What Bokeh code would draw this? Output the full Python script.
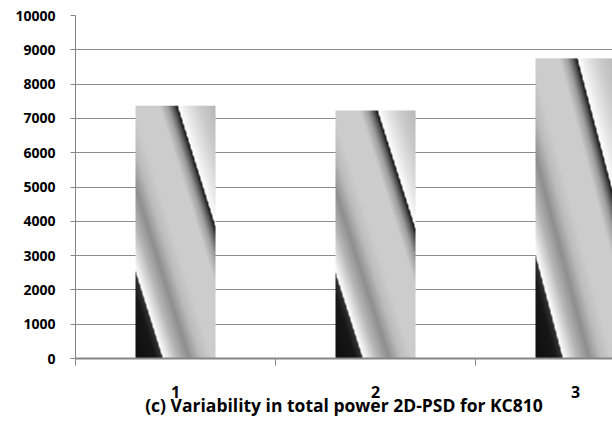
import numpy as np
from bokeh.plotting import figure
from bokeh.models import FixedTicker, Range1d
from bokeh.embed import file_html
from bokeh.resources import INLINE

# ---- data ----
categories = [1, 2, 3]
values = [7370, 7230, 8750]
y_ticks = [0, 1000, 2000, 3000, 4000, 5000, 6000, 7000, 8000, 9000, 10000]
x_labels = {1: "1", 2: "2", 3: "3"}
title_text = "(c) Variability in total power 2D-PSD for KC810"

# ---- style ----
bar_width = 0.4
axis_gray = "#868686"
grid_gray = "#8c8c8c"
font = "Open Sans"

# metallic diagonal gradient (normalized within each bar)
tp = [-1.0, -0.75, -0.665, -0.655, -0.58, -0.48, -0.33, -0.18, -0.05, 0.30, 0.40, 0.47, 0.52, 0.53, 0.62, 0.80, 1.0]
gp = [0.06, 0.09, 0.20, 1.00, 0.88, 0.72, 0.56, 0.74, 0.80, 0.80, 0.62, 0.35, 0.08, 1.00, 0.92, 0.80, 0.72]
rows, cols = 400, 120
u = np.linspace(0, 1, cols)[None, :]
v = np.linspace(0, 1, rows)[:, None]
t = u - (1 - v)
g = np.interp(t, tp, gp)
c = np.clip(g * 255, 0, 255).astype(np.uint32)
img = ((255 << 24) | (c << 16) | (c << 8) | c).astype(np.uint32)

p = figure(frame_width=537, frame_height=343, output_backend="svg", toolbar_location=None,
           x_range=Range1d(0.5, 3.185), y_range=Range1d(0, 10000),
           min_border_left=75, min_border_top=15, min_border_bottom=10, min_border_right=0)
p.outline_line_color = None
p.background_fill_color = "white"
p.border_fill_color = "white"

p.image_rgba(image=[img for _ in categories],
             x=[cat - bar_width / 2 for cat in categories],
             y=[0 for _ in categories],
             dw=[bar_width for _ in categories],
             dh=values)

# grid
p.xgrid.visible = False
p.ygrid.ticker = FixedTicker(ticks=y_ticks)
p.ygrid.grid_line_color = grid_gray
p.ygrid.grid_line_width = 1

# y axis
p.yaxis.ticker = FixedTicker(ticks=y_ticks)
p.yaxis.axis_line_color = axis_gray
p.yaxis.major_tick_line_color = axis_gray
p.yaxis.major_tick_out = 5
p.yaxis.major_tick_in = 0
p.yaxis.minor_tick_line_color = None
p.yaxis.major_label_standoff = 15
p.yaxis.major_label_text_font = font
p.yaxis.major_label_text_font_size = "14px"
p.yaxis.major_label_text_font_style = "bold"
p.yaxis.major_label_text_color = "black"
p.yaxis.formatter.use_scientific = False

# x axis
p.xaxis.ticker = FixedTicker(ticks=categories, minor_ticks=[0.5, 1.5, 2.5, 3.5])
p.xaxis.major_label_overrides = x_labels
p.xaxis.axis_line_color = axis_gray
p.xaxis.axis_line_width = 2
p.xaxis.major_tick_out = 0
p.xaxis.major_tick_in = 0
p.xaxis.minor_tick_out = 7
p.xaxis.minor_tick_in = 0
p.xaxis.minor_tick_line_color = axis_gray
p.xaxis.major_label_standoff = 20
p.xaxis.major_label_text_font = font
p.xaxis.major_label_text_font_size = "16px"
p.xaxis.major_label_text_font_style = "bold"
p.xaxis.major_label_text_color = "black"

# caption drawn as the x axis label
p.xaxis.axis_label = title_text
p.xaxis.axis_label_standoff = -8
p.xaxis.axis_label_text_font = font
p.xaxis.axis_label_text_font_size = "17.5px"
p.xaxis.axis_label_text_font_style = "bold"
p.xaxis.axis_label_text_color = "black"

open("out.html", "w").write(file_html(p, INLINE))
